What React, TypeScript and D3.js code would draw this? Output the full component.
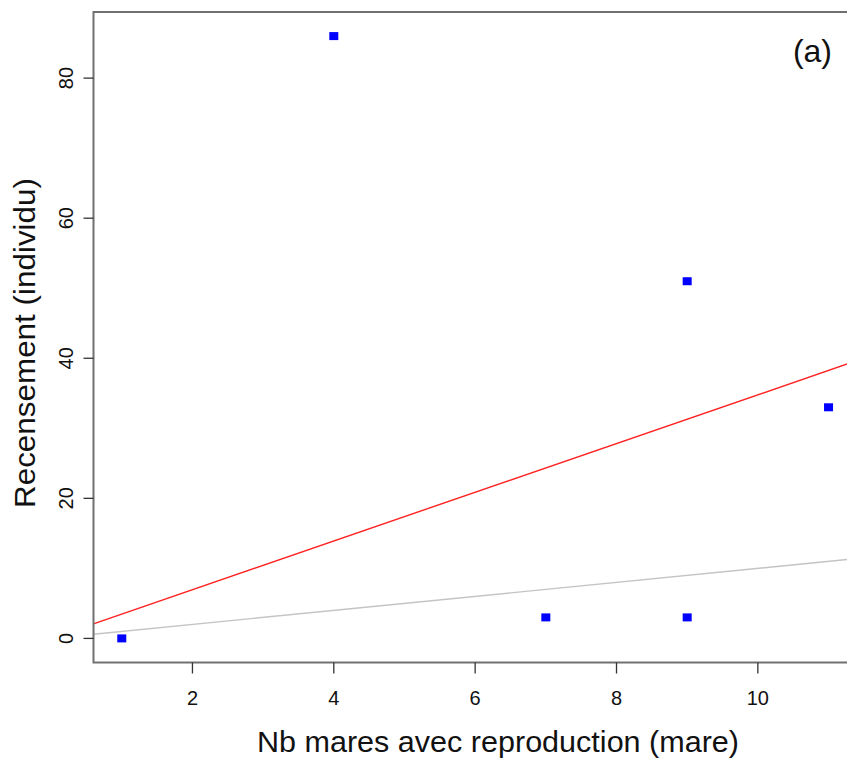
import * as d3 from "d3";

// data
const mares = [1, 4, 7, 9, 9, 11];
const recensement = [0, 86, 3, 3, 51, 33];

// fitted lines (intercept, slope)
const lineIntercepts = [0, 0];
const lineSlopes = [3.478, 1];
const lineColors = ["#ff2020", "#c4c4c4"];

const xTicks = [2, 4, 6, 8, 10];
const yTicks = [0, 20, 40, 60, 80];

const font = "'Liberation Sans', Arial, sans-serif";

export default function App() {
  const width = 847;
  const height = 760;
  const left = 93.5;
  const right = 856.8;
  const top = 12;
  const bottom = 662.5;

  const x = d3.scaleLinear().domain([0.6, 11.4]).range([left, right]);
  const y = d3.scaleLinear().domain([-3.44, 89.44]).range([bottom, top]);
  const [x0, x1] = x.domain();

  const points = mares.map((m, i) => ({ x: m, y: recensement[i] }));

  return (
    <svg
      width={width}
      height={height}
      style={{ position: "absolute", left: 0, top: 0, display: "block", background: "#fff" }}
      fontFamily={font}
    >
      <defs>
        <clipPath id="plot">
          <rect x={left} y={top} width={right - left} height={bottom - top} />
        </clipPath>
      </defs>

      <g clipPath="url(#plot)">
        {lineSlopes.map((b, i) => {
          const a = lineIntercepts[i];
          const d = d3
            .line<number>()
            .x((v) => x(v))
            .y((v) => y(a + b * v))([x0, x1]);
          return (
            <path key={i} d={d ?? ""} fill="none" stroke={lineColors[i]} strokeWidth={1.4} />
          );
        })}
      </g>

      <g fill="#0000ff">
        {points.map((p, i) => (
          <rect key={i} x={x(p.x) - 4.5} y={y(p.y) - 4} width={9} height={8} />
        ))}
      </g>

      <rect
        x={left}
        y={top}
        width={right - left}
        height={bottom - top}
        fill="none"
        stroke="#707070"
        strokeWidth={2}
      />

      <g fontSize={20} fill="#111">
        {xTicks.map((t) => (
          <g key={t}>
            <line x1={x(t)} x2={x(t)} y1={bottom} y2={bottom + 11} stroke="#333" strokeWidth={1.3} />
            <text x={x(t)} y={705} textAnchor="middle">
              {t}
            </text>
          </g>
        ))}
        {yTicks.map((t) => (
          <g key={t}>
            <line x1={left - 10} x2={left} y1={y(t)} y2={y(t)} stroke="#333" strokeWidth={1.3} />
            <text transform={`translate(73,${y(t)}) rotate(-90)`} textAnchor="middle">
              {t}
            </text>
          </g>
        ))}
      </g>

      <text
        x={498}
        y={752}
        fontSize={29}
        textAnchor="middle"
        fill="#111"
        textLength={482}
        lengthAdjust="spacingAndGlyphs"
      >
        Nb mares avec reproduction (mare)
      </text>
      <text
        transform={`translate(35,343) rotate(-90)`}
        fontSize={29}
        textAnchor="middle"
        fill="#111"
        textLength={330}
        lengthAdjust="spacingAndGlyphs"
      >
        Recensement (individu)
      </text>
      <text x={832} y={62} fontSize={32} textAnchor="end" fill="#111">
        (a)
      </text>
    </svg>
  );
}
